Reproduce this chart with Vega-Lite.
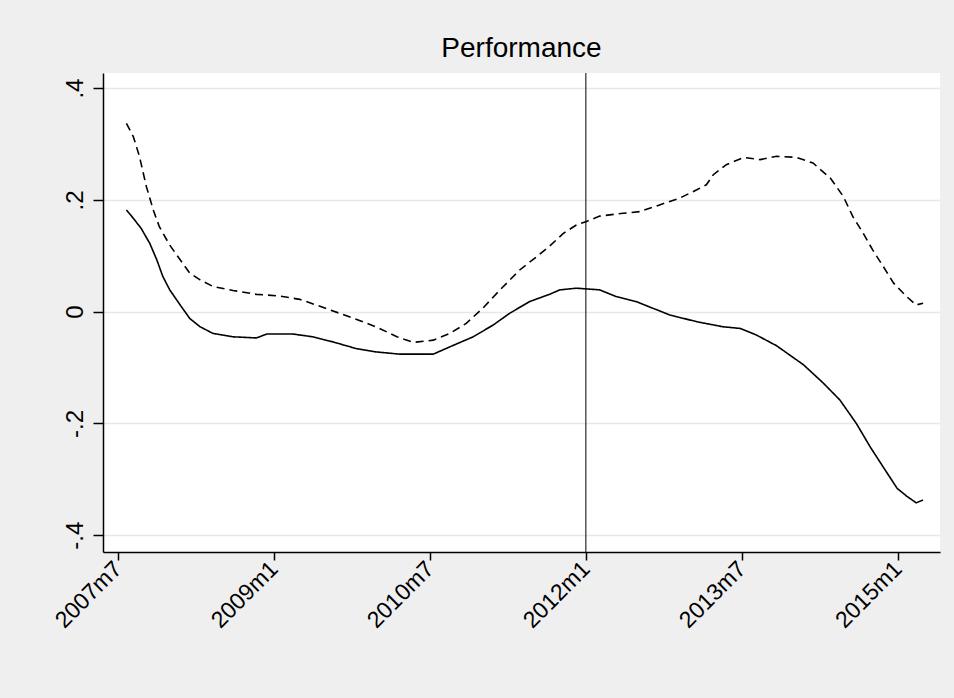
{
  "$schema": "https://vega.github.io/schema/vega-lite/v6.json",
  "width": 837,
  "height": 479,
  "autosize": {"type": "none"},
  "padding": {"left": 103, "top": 73, "right": 14, "bottom": 146},
  "background": "#efefef",
  "config": {
    "font": "Liberation Sans",
    "view": {"fill": "white", "stroke": null}
  },
  "title": {
    "text": "Performance",
    "fontSize": 28,
    "fontWeight": "normal",
    "color": "black",
    "anchor": "middle",
    "offset": 10
  },
  "datasets": {
    "curves": [
      {"t": 571.0, "v": 0.337, "line": "dashed"},
      {"t": 571.8, "v": 0.313, "line": "dashed"},
      {"t": 572.5, "v": 0.278, "line": "dashed"},
      {"t": 573.3, "v": 0.224, "line": "dashed"},
      {"t": 574.1, "v": 0.182, "line": "dashed"},
      {"t": 574.8, "v": 0.152, "line": "dashed"},
      {"t": 576.0, "v": 0.119, "line": "dashed"},
      {"t": 577.2, "v": 0.093, "line": "dashed"},
      {"t": 578.3, "v": 0.069, "line": "dashed"},
      {"t": 579.5, "v": 0.057, "line": "dashed"},
      {"t": 581.0, "v": 0.045, "line": "dashed"},
      {"t": 583.3, "v": 0.038, "line": "dashed"},
      {"t": 586.0, "v": 0.031, "line": "dashed"},
      {"t": 588.7, "v": 0.028, "line": "dashed"},
      {"t": 591.0, "v": 0.022, "line": "dashed"},
      {"t": 592.9, "v": 0.012, "line": "dashed"},
      {"t": 595.6, "v": -0.003, "line": "dashed"},
      {"t": 598.3, "v": -0.018, "line": "dashed"},
      {"t": 600.2, "v": -0.030, "line": "dashed"},
      {"t": 602.2, "v": -0.045, "line": "dashed"},
      {"t": 604.1, "v": -0.055, "line": "dashed"},
      {"t": 606.4, "v": -0.051, "line": "dashed"},
      {"t": 608.3, "v": -0.039, "line": "dashed"},
      {"t": 610.2, "v": -0.021, "line": "dashed"},
      {"t": 612.1, "v": 0.006, "line": "dashed"},
      {"t": 614.1, "v": 0.039, "line": "dashed"},
      {"t": 616.4, "v": 0.075, "line": "dashed"},
      {"t": 618.3, "v": 0.098, "line": "dashed"},
      {"t": 619.8, "v": 0.117, "line": "dashed"},
      {"t": 621.4, "v": 0.140, "line": "dashed"},
      {"t": 622.9, "v": 0.155, "line": "dashed"},
      {"t": 624.0, "v": 0.161, "line": "dashed"},
      {"t": 625.6, "v": 0.171, "line": "dashed"},
      {"t": 628.3, "v": 0.176, "line": "dashed"},
      {"t": 630.2, "v": 0.179, "line": "dashed"},
      {"t": 632.5, "v": 0.191, "line": "dashed"},
      {"t": 634.8, "v": 0.203, "line": "dashed"},
      {"t": 636.8, "v": 0.218, "line": "dashed"},
      {"t": 637.9, "v": 0.227, "line": "dashed"},
      {"t": 638.7, "v": 0.245, "line": "dashed"},
      {"t": 640.2, "v": 0.263, "line": "dashed"},
      {"t": 642.2, "v": 0.276, "line": "dashed"},
      {"t": 644.1, "v": 0.272, "line": "dashed"},
      {"t": 646.0, "v": 0.278, "line": "dashed"},
      {"t": 648.3, "v": 0.276, "line": "dashed"},
      {"t": 650.2, "v": 0.266, "line": "dashed"},
      {"t": 652.2, "v": 0.239, "line": "dashed"},
      {"t": 653.7, "v": 0.206, "line": "dashed"},
      {"t": 654.8, "v": 0.170, "line": "dashed"},
      {"t": 656.0, "v": 0.140, "line": "dashed"},
      {"t": 657.1, "v": 0.110, "line": "dashed"},
      {"t": 658.3, "v": 0.081, "line": "dashed"},
      {"t": 659.5, "v": 0.051, "line": "dashed"},
      {"t": 661.0, "v": 0.027, "line": "dashed"},
      {"t": 662.1, "v": 0.012, "line": "dashed"},
      {"t": 662.9, "v": 0.015, "line": "dashed"},
      {"t": 571.0, "v": 0.182, "line": "solid"},
      {"t": 571.8, "v": 0.167, "line": "solid"},
      {"t": 572.7, "v": 0.149, "line": "solid"},
      {"t": 573.7, "v": 0.122, "line": "solid"},
      {"t": 574.5, "v": 0.093, "line": "solid"},
      {"t": 575.2, "v": 0.063, "line": "solid"},
      {"t": 576.0, "v": 0.039, "line": "solid"},
      {"t": 577.2, "v": 0.012, "line": "solid"},
      {"t": 578.3, "v": -0.012, "line": "solid"},
      {"t": 579.5, "v": -0.027, "line": "solid"},
      {"t": 581.0, "v": -0.039, "line": "solid"},
      {"t": 583.3, "v": -0.045, "line": "solid"},
      {"t": 586.0, "v": -0.047, "line": "solid"},
      {"t": 587.2, "v": -0.040, "line": "solid"},
      {"t": 590.2, "v": -0.040, "line": "solid"},
      {"t": 592.5, "v": -0.045, "line": "solid"},
      {"t": 594.8, "v": -0.054, "line": "solid"},
      {"t": 597.5, "v": -0.066, "line": "solid"},
      {"t": 599.8, "v": -0.072, "line": "solid"},
      {"t": 602.5, "v": -0.076, "line": "solid"},
      {"t": 606.4, "v": -0.076, "line": "solid"},
      {"t": 608.3, "v": -0.063, "line": "solid"},
      {"t": 611.0, "v": -0.045, "line": "solid"},
      {"t": 613.3, "v": -0.024, "line": "solid"},
      {"t": 615.2, "v": -0.003, "line": "solid"},
      {"t": 617.5, "v": 0.018, "line": "solid"},
      {"t": 619.8, "v": 0.031, "line": "solid"},
      {"t": 621.0, "v": 0.039, "line": "solid"},
      {"t": 622.9, "v": 0.042, "line": "solid"},
      {"t": 625.6, "v": 0.039, "line": "solid"},
      {"t": 627.5, "v": 0.027, "line": "solid"},
      {"t": 629.8, "v": 0.018, "line": "solid"},
      {"t": 633.7, "v": -0.006, "line": "solid"},
      {"t": 636.8, "v": -0.018, "line": "solid"},
      {"t": 639.8, "v": -0.027, "line": "solid"},
      {"t": 641.8, "v": -0.030, "line": "solid"},
      {"t": 643.7, "v": -0.042, "line": "solid"},
      {"t": 646.0, "v": -0.061, "line": "solid"},
      {"t": 649.1, "v": -0.095, "line": "solid"},
      {"t": 651.4, "v": -0.128, "line": "solid"},
      {"t": 653.3, "v": -0.158, "line": "solid"},
      {"t": 655.2, "v": -0.200, "line": "solid"},
      {"t": 656.8, "v": -0.242, "line": "solid"},
      {"t": 658.3, "v": -0.278, "line": "solid"},
      {"t": 659.9, "v": -0.316, "line": "solid"},
      {"t": 661.0, "v": -0.330, "line": "solid"},
      {"t": 662.1, "v": -0.342, "line": "solid"},
      {"t": 662.9, "v": -0.337, "line": "solid"}
    ],
    "marker": [{"t": 624}]
  },
  "layer": [
    {
      "data": {"name": "curves"},
      "mark": {"type": "line", "strokeWidth": 1.6, "color": "black", "clip": true},
      "encoding": {
        "x": {
          "field": "t",
          "type": "quantitative",
          "scale": {"domain": [568.3, 664.85], "nice": false, "zero": false},
          "axis": {
            "title": null,
            "values": [570, 588, 606, 624, 642, 660],
            "labelExpr": "toString(floor(datum.value / 12) + 1960) + 'm' + toString(datum.value % 12 + 1)",
            "labelAngle": -45,
            "labelAlign": "right",
            "labelBaseline": "middle",
            "labelFontSize": 23,
            "labelColor": "black",
            "labelPadding": 5,
            "tickSize": 8,
            "tickColor": "black",
            "tickWidth": 1.5,
            "domainColor": "black",
            "domainWidth": 1.5,
            "grid": false,
            "labelOverlap": false
          }
        },
        "y": {
          "field": "v",
          "type": "quantitative",
          "scale": {"domain": [-0.43, 0.427], "nice": false, "zero": false},
          "axis": {
            "title": null,
            "values": [-0.4, -0.2, 0, 0.2, 0.4],
            "labelExpr": "datum.value == 0 ? '0' : (datum.value < 0 ? '-' : '') + '.' + toString(round(abs(datum.value) * 10))",
            "labelAngle": -90,
            "labelAlign": "center",
            "labelBaseline": "bottom",
            "labelFontSize": 24,
            "labelColor": "black",
            "labelPadding": 6,
            "tickSize": 10,
            "tickColor": "black",
            "tickWidth": 1.5,
            "domainColor": "black",
            "domainWidth": 1.5,
            "grid": true,
            "gridColor": "#e8e8e8",
            "gridWidth": 1.5,
            "labelOverlap": false
          }
        },
        "strokeDash": {
          "field": "line",
          "type": "nominal",
          "scale": {"domain": ["solid", "dashed"], "range": [[1, 0], [8, 5]]},
          "legend": null
        }
      }
    },
    {
      "data": {"name": "marker"},
      "mark": {"type": "rule", "color": "black", "strokeWidth": 1},
      "encoding": {
        "x": {"field": "t", "type": "quantitative"}
      }
    }
  ]
}
